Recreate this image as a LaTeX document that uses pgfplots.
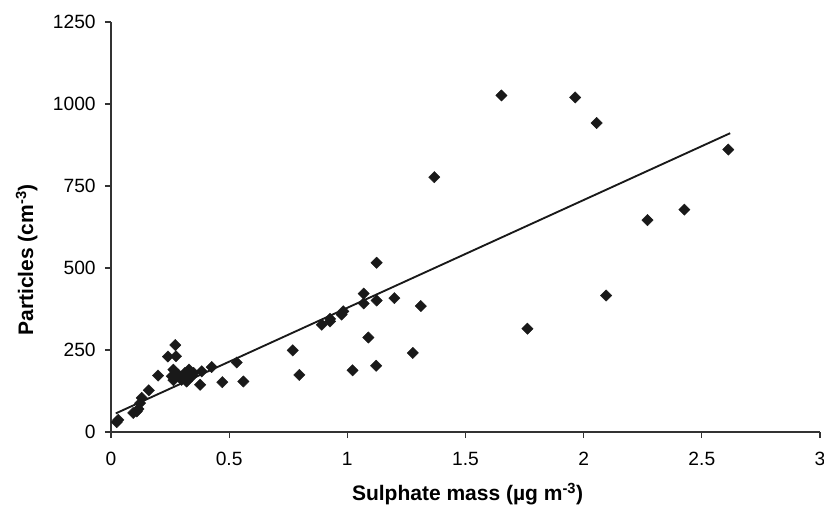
\documentclass[border=0pt]{standalone}
\usepackage{fontspec}
\setmainfont{Liberation Sans}
\usepackage{pgfplots}
\pgfplotsset{compat=1.18}
\begin{document}
\begin{tikzpicture}
\useasboundingbox (-83.25pt,-55.5pt) rectangle (534.75pt,324pt);
\begin{axis}[
  at={(0,0)}, anchor=south west,
  scale only axis,
  width=531.75pt, height=307.5pt,
  xmin=0, xmax=3, ymin=0, ymax=1250,
  axis x line=bottom, axis y line=left,
  axis line style={-, line width=0.8pt, color=black!80},
  xtick={0,0.5,1,1.5,2,2.5,3},
  ytick={0,250,500,750,1000,1250},
  tick align=outside,
  major tick length=4.5pt,
  tick style={line width=0.8pt, color=black!80},
  /pgf/number format/assume math mode=true,
  /pgf/number format/1000 sep={},
  xticklabel style={font=\fontsize{14.4}{16}\selectfont, yshift=-7pt},
  yticklabel style={font=\fontsize{14.4}{16}\selectfont, xshift=-3.5pt},
  xlabel={Sulphate mass (µg m\textsuperscript{-3})},
  ylabel={Particles (cm\textsuperscript{-3})},
  xlabel style={at={(axis description cs:0.503,-0.166)}, anchor=base, font=\fontsize{15.75}{18}\selectfont\bfseries},
  ylabel style={at={(axis description cs:-0.110,0.42)}, rotate=0, anchor=base, font=\fontsize{15.75}{18}\selectfont\bfseries},
  clip=false,
]
\addplot[only marks, mark=square*, mark size=3pt, mark options={rotate=45, fill=black!90, draw=black!90, line width=0.3pt}] coordinates {
(0.024,30) (0.031,37) (0.094,58) (0.109,63) (0.116,70) (0.123,88) (0.130,104)
(0.160,127) (0.199,172) (0.241,230) (0.275,231) (0.272,265) (0.264,190)
(0.264,158) (0.257,170) (0.285,175) (0.299,159) (0.313,180) (0.320,154)
(0.330,190) (0.342,170) (0.350,180) (0.377,144) (0.384,185) (0.426,198)
(0.471,152) (0.532,212) (0.560,154)
(0.769,249) (0.797,174)
(0.892,327) (0.927,337) (0.927,345) (0.976,358) (0.983,368) (1.022,188)
(1.069,422) (1.069,392) (1.089,288) (1.122,202) (1.124,401) (1.124,516)
(1.199,408) (1.277,241) (1.311,384) (1.368,777) (1.652,1026) (1.762,315)
(1.964,1020) (2.055,942) (2.095,416) (2.270,646) (2.426,678) (2.612,861)
};
\addplot[line width=1.4pt, color=black!90] coordinates {(0.02,56.6) (2.62,911)};
\end{axis}
\end{tikzpicture}
\end{document}
